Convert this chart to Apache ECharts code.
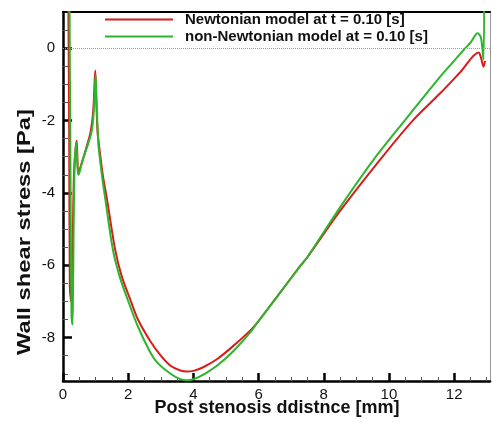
<!DOCTYPE html>
<html>
<head>
<meta charset="utf-8">
<script src="https://cdn.jsdelivr.net/npm/echarts@6/dist/echarts.min.js"></script>
<style>html,body{margin:0;padding:0;background:#fff}#c{width:492px;height:423px}</style>
</head>
<body>
<div id="c"></div>
<script>
var seriesNames = ['Newtonian model at t = 0.10 [s]', 'non-Newtonian model at = 0.10 [s]'];
var xTicks = [0, 2, 4, 6, 8, 10, 12];
var yTicks = [-8, -6, -4, -2, 0];
var xMinorTicks = [0.5,1,1.5,2.5,3,3.5,4.5,5,5.5,6.5,7,7.5,8.5,9,9.5,10.5,11,11.5,12.5,13];
var yMinorTicks = [-9,-8.5,-7.5,-7,-6.5,-5.5,-5,-4.5,-3.5,-3,-2.5,-1.5,-1,-0.5,0.5];
var newtonian = [
  [0.15, 3.0], [0.19, -2.3], [0.21, -6.6], [0.25, -7.0], [0.29, -5.8], [0.34, -3.4],
  [0.42, -2.55], [0.47, -3.45], [0.55, -3.25], [0.7, -2.8], [0.85, -2.3], [0.93, -1.7],
  [0.99, -0.62], [1.02, -1.4], [1.06, -2.3], [1.12, -2.8], [1.22, -3.5], [1.35, -4.18],
  [1.6, -5.57], [1.8, -6.3], [2.06, -6.94], [2.3, -7.5], [2.68, -8.1], [3.0, -8.5],
  [3.3, -8.78], [3.6, -8.91], [3.8, -8.94], [4.0, -8.92], [4.3, -8.82], [4.72, -8.6],
  [5.2, -8.25], [5.75, -7.8], [5.95, -7.6], [6.5, -6.95], [7.28, -6.02], [7.48, -5.8],
  [8.5, -4.5], [9.73, -3.08], [10.75, -1.98], [11.58, -1.24], [12.2, -0.65],
  [12.75, -0.12], [12.82, -0.25], [12.9, -0.51], [12.95, -0.35]
];
var nonNewtonian = [
  [0.19, 3.0], [0.22, -2.0], [0.26, -7.3], [0.29, -7.64], [0.31, -6.5], [0.35, -3.5],
  [0.41, -2.6], [0.46, -3.5], [0.5, -3.45], [0.6, -3.1], [0.75, -2.7], [0.88, -2.3],
  [0.94, -1.8], [1.0, -0.74], [1.03, -1.5], [1.07, -2.4], [1.10, -2.8], [1.2, -3.55],
  [1.30, -4.18], [1.53, -5.57], [1.75, -6.35], [1.98, -6.94], [2.3, -7.7], [2.68, -8.41],
  [2.9, -8.7], [3.3, -9.0], [3.6, -9.15], [3.8, -9.18], [4.0, -9.15], [4.35, -9.0],
  [4.72, -8.78], [5.2, -8.4], [5.75, -7.85], [5.95, -7.6], [6.5, -6.95], [7.28, -6.02],
  [7.48, -5.8], [8.5, -4.4], [9.53, -3.08], [10.5, -1.98], [11.58, -0.78], [12.0, -0.35],
  [12.34, 0.0], [12.5, 0.15], [12.72, 0.41], [12.82, 0.3], [12.9, -0.32], [12.93, 3.0]
];

var FONT = '"Liberation Sans", Arial, sans-serif';
var XMIN = 0, XMAX = 13.1, YMIN = -9.2, YMAX = 1;

var chart = echarts.init(document.getElementById('c'));
chart.setOption({
  animation: false,
  backgroundColor: '#fff',
  grid: { left: 63, right: 2, top: 12, bottom: 42 },
  legend: {
    left: 105, top: 11, orient: 'vertical', itemGap: 0, padding: 0,
    itemWidth: 68, itemHeight: 2, icon: 'rect',
    textStyle: { fontFamily: FONT, fontWeight: 'bold', fontSize: 15, color: '#111', padding: [0, 0, 0, 7], lineHeight: 17 },
    data: seriesNames
  },
  xAxis: [
    {
      type: 'value', position: 'bottom', min: XMIN, max: XMAX,
      axisLine: { onZero: false, lineStyle: { color: '#000', width: 2.5 } },
      axisTick: { show: true, inside: true, length: 8, lineStyle: { color: '#000', width: 2.5 }, customValues: xTicks },
      axisLabel: { fontFamily: FONT, fontSize: 15, color: '#111', margin: 6, customValues: xTicks },
      splitLine: { show: false }
    },
    {
      type: 'value', position: 'bottom', min: XMIN, max: XMAX,
      axisLine: { show: false, onZero: false },
      axisTick: { show: true, inside: true, length: 4, lineStyle: { color: '#555', width: 1 }, customValues: xMinorTicks },
      axisLabel: { show: false },
      splitLine: { show: false }
    },
    {
      type: 'value', position: 'top', min: XMIN, max: XMAX,
      axisLine: { onZero: false, lineStyle: { color: '#000', width: 2 } },
      axisTick: { show: false }, axisLabel: { show: false }, splitLine: { show: false }
    }
  ],
  yAxis: [
    {
      type: 'value', position: 'left', min: YMIN, max: YMAX,
      axisLine: { show: true, onZero: false, lineStyle: { color: '#000', width: 2.5 } },
      axisTick: { show: true, inside: true, length: 9, lineStyle: { color: '#000', width: 2.5 }, customValues: yTicks },
      axisLabel: { fontFamily: FONT, fontSize: 15, color: '#111', margin: 8, customValues: yTicks },
      splitLine: { show: false }
    },
    {
      type: 'value', position: 'left', min: YMIN, max: YMAX,
      axisLine: { show: false, onZero: false },
      axisTick: { show: true, inside: true, length: 5, lineStyle: { color: '#555', width: 1 }, customValues: yMinorTicks },
      axisLabel: { show: false },
      splitLine: { show: false }
    },
    {
      type: 'value', position: 'right', min: YMIN, max: YMAX,
      axisLine: { show: true, onZero: false, lineStyle: { color: '#999', width: 1 } },
      axisTick: { show: false }, axisLabel: { show: false }, splitLine: { show: false }
    }
  ],
  graphic: [
    { type: 'text', x: 25, y: 232, rotation: Math.PI / 2, scaleX: 1.25,
      style: { text: 'Wall shear stress [Pa]', font: 'bold 19px ' + FONT, fill: '#111', textAlign: 'center', textVerticalAlign: 'middle' } },
    { type: 'text', x: 277, y: 408,
      style: { text: 'Post stenosis ddistnce [mm]', font: 'bold 18px ' + FONT, fill: '#111', textAlign: 'center', textVerticalAlign: 'middle' } }
  ],
  series: [
    {
      name: seriesNames[0], type: 'line', xAxisIndex: 0, yAxisIndex: 0,
      data: newtonian, showSymbol: false, symbol: 'none', smooth: 0.3, clip: true,
      color: '#d81b1b', lineStyle: { color: '#d81b1b', width: 2 },
      markLine: {
        silent: true, symbol: 'none', label: { show: false },
        lineStyle: { color: '#999', type: 'dotted', width: 1 },
        data: [{ yAxis: 0 }]
      },
      z: 3
    },
    {
      name: seriesNames[1], type: 'line', xAxisIndex: 0, yAxisIndex: 0,
      data: nonNewtonian, showSymbol: false, symbol: 'none', smooth: 0.3, clip: true,
      color: '#2cb52c', lineStyle: { color: '#2cb52c', width: 2 },
      z: 4
    }
  ]
});
</script>
</body>
</html>
